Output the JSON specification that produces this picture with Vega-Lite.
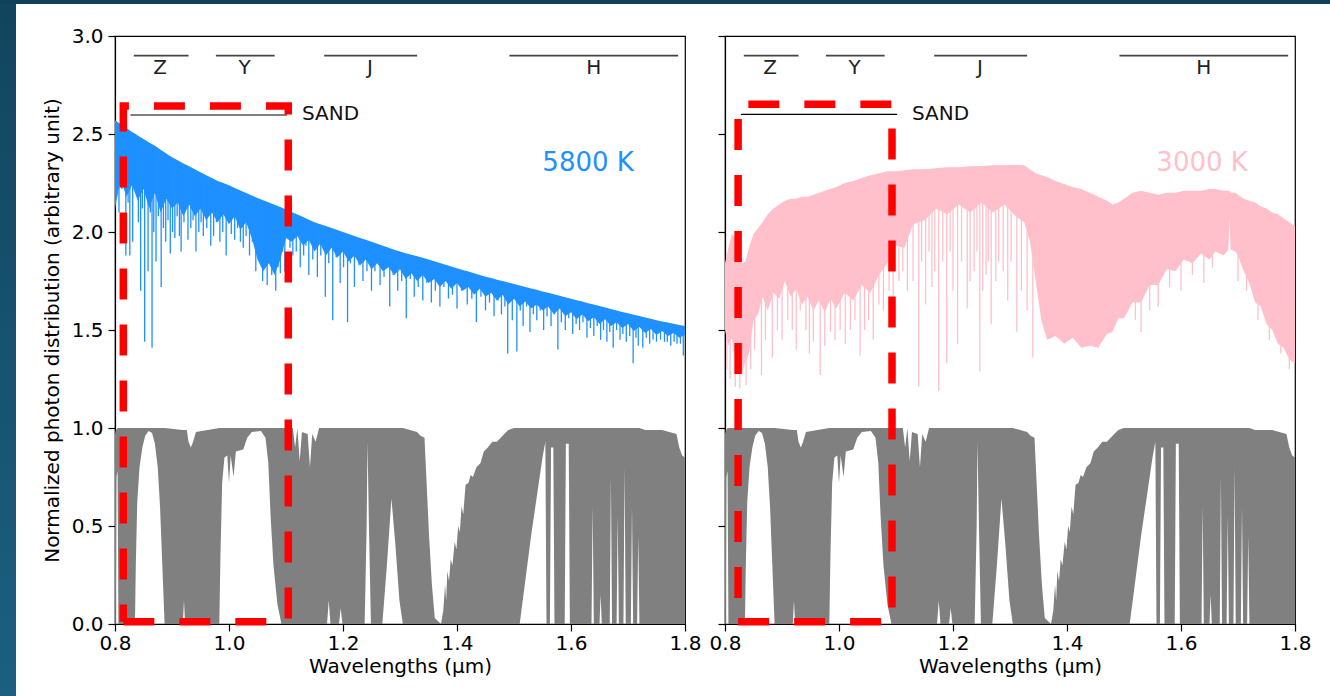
{
  "$schema": "https://vega.github.io/schema/vega-lite/v6.json",
  "padding": 0,
  "background": "white",
  "spacing": 0,
  "config": {
    "font": "DejaVu Sans",
    "view": {"stroke": null},
    "axis": {"labelFont": "DejaVu Sans", "titleFont": "DejaVu Sans", "labelFontSize": 20, "titleFontSize": 20, "titleFontWeight": "normal", "labelColor": "#000", "titleColor": "#000", "domainColor": "#000", "tickColor": "#000", "tickSize": 7, "domainWidth": 1.2, "tickWidth": 1.2, "grid": false},
    "text": {"font": "DejaVu Sans"}
  },
  "datasets": {
    "telluric": [
      {"lam":0.800,"lo":0,"hi":0.97},{"lam":0.8015,"lo":0,"hi":0.99},{"lam":0.8025,"lo":0.75,"hi":0.99},{"lam":0.8045,"lo":0.78,"hi":1.0},{"lam":0.806,"lo":0,"hi":1.0},
      {"lam":0.835,"lo":0,"hi":1.0},{"lam":0.8365,"lo":0.3,"hi":1.0},{"lam":0.839,"lo":0.62,"hi":1.0},{"lam":0.843,"lo":0.8,"hi":1.0},{"lam":0.848,"lo":0.9,"hi":1.0},{"lam":0.853,"lo":0.96,"hi":1.0},{"lam":0.859,"lo":0.985,"hi":1.0},{"lam":0.865,"lo":0.975,"hi":1.0},{"lam":0.87,"lo":0.92,"hi":1.0},{"lam":0.875,"lo":0.8,"hi":1.0},{"lam":0.879,"lo":0.6,"hi":1.0},{"lam":0.883,"lo":0.3,"hi":1.0},{"lam":0.887,"lo":0,"hi":1.0},
      {"lam":0.919,"lo":0,"hi":0.99},{"lam":0.921,"lo":0.12,"hi":0.99},{"lam":0.923,"lo":0,"hi":0.99},{"lam":0.926,"lo":0,"hi":0.99},{"lam":0.929,"lo":0,"hi":0.93},{"lam":0.933,"lo":0,"hi":0.9},{"lam":0.937,"lo":0,"hi":0.93},{"lam":0.942,"lo":0,"hi":0.98},
      {"lam":0.983,"lo":0,"hi":1.0},{"lam":0.985,"lo":0.35,"hi":1.0},{"lam":0.988,"lo":0.72,"hi":1.0},{"lam":0.992,"lo":0.85,"hi":1.0},{"lam":0.997,"lo":0.86,"hi":1.0},{"lam":1.0,"lo":0.72,"hi":1.0},{"lam":1.003,"lo":0.86,"hi":1.0},{"lam":1.008,"lo":0.75,"hi":1.0},{"lam":1.012,"lo":0.88,"hi":1.0},{"lam":1.025,"lo":0.89,"hi":1.0},{"lam":1.032,"lo":0.95,"hi":1.0},{"lam":1.04,"lo":0.98,"hi":1.0},{"lam":1.056,"lo":0.985,"hi":1.0},{"lam":1.064,"lo":0.95,"hi":1.0},{"lam":1.069,"lo":0.82,"hi":1.0},{"lam":1.073,"lo":0.55,"hi":1.0},{"lam":1.078,"lo":0.3,"hi":1.0},{"lam":1.085,"lo":0.1,"hi":1.0},{"lam":1.092,"lo":0,"hi":1.0},
      {"lam":1.112,"lo":0,"hi":1.0},{"lam":1.116,"lo":0,"hi":0.9},{"lam":1.12,"lo":0,"hi":1.0},{"lam":1.124,"lo":0,"hi":0.83},{"lam":1.128,"lo":0,"hi":0.98},{"lam":1.138,"lo":0,"hi":0.97},{"lam":1.142,"lo":0,"hi":0.8},{"lam":1.146,"lo":0,"hi":0.97},{"lam":1.152,"lo":0,"hi":0.93},{"lam":1.158,"lo":0,"hi":1.0},
      {"lam":1.172,"lo":0,"hi":1.0},{"lam":1.175,"lo":0.12,"hi":1.0},{"lam":1.178,"lo":0,"hi":1.0},{"lam":1.193,"lo":0,"hi":1.0},{"lam":1.196,"lo":0.08,"hi":1.0},{"lam":1.199,"lo":0,"hi":1.0},
      {"lam":1.238,"lo":0,"hi":1.0},{"lam":1.2415,"lo":0.5,"hi":1.0},{"lam":1.243,"lo":0.93,"hi":1.0},{"lam":1.2455,"lo":0.5,"hi":1.0},{"lam":1.249,"lo":0,"hi":1.0},
      {"lam":1.269,"lo":0,"hi":1.0},{"lam":1.277,"lo":0.3,"hi":1.0},{"lam":1.285,"lo":0.64,"hi":1.0},{"lam":1.292,"lo":0.4,"hi":1.0},{"lam":1.299,"lo":0.12,"hi":1.0},{"lam":1.305,"lo":0,"hi":1.0},
      {"lam":1.33,"lo":0,"hi":0.98},{"lam":1.336,"lo":0,"hi":0.96},{"lam":1.343,"lo":0,"hi":0.95},{"lam":1.347,"lo":0,"hi":0.7},{"lam":1.351,"lo":0,"hi":0.45},{"lam":1.356,"lo":0,"hi":0.2},{"lam":1.361,"lo":0,"hi":0.03},{"lam":1.372,"lo":0,"hi":0.0},
      {"lam":1.376,"lo":0,"hi":0.07},{"lam":1.379,"lo":0,"hi":0.2},{"lam":1.381,"lo":0,"hi":0.12},{"lam":1.383,"lo":0,"hi":0.27},{"lam":1.386,"lo":0,"hi":0.22},{"lam":1.389,"lo":0,"hi":0.33},{"lam":1.392,"lo":0,"hi":0.3},{"lam":1.396,"lo":0,"hi":0.42},{"lam":1.399,"lo":0,"hi":0.38},{"lam":1.402,"lo":0,"hi":0.5},{"lam":1.405,"lo":0,"hi":0.47},{"lam":1.408,"lo":0,"hi":0.6},{"lam":1.411,"lo":0,"hi":0.56},{"lam":1.415,"lo":0,"hi":0.71},{"lam":1.42,"lo":0,"hi":0.72},{"lam":1.424,"lo":0,"hi":0.76},{"lam":1.428,"lo":0,"hi":0.75},{"lam":1.434,"lo":0,"hi":0.8},{"lam":1.441,"lo":0,"hi":0.82},{"lam":1.447,"lo":0,"hi":0.88},{"lam":1.454,"lo":0,"hi":0.9},{"lam":1.462,"lo":0,"hi":0.93},{"lam":1.47,"lo":0,"hi":0.93},{"lam":1.48,"lo":0,"hi":0.96},{"lam":1.49,"lo":0,"hi":0.99},{"lam":1.5,"lo":0,"hi":1.0},
      {"lam":1.51,"lo":0,"hi":1.0},{"lam":1.53,"lo":0.45,"hi":1.0},{"lam":1.55,"lo":0.85,"hi":1.0},{"lam":1.555,"lo":0.93,"hi":1.0},{"lam":1.557,"lo":0,"hi":1.0},
      {"lam":1.563,"lo":0,"hi":1.0},{"lam":1.565,"lo":0.9,"hi":1.0},{"lam":1.569,"lo":0.9,"hi":1.0},{"lam":1.571,"lo":0,"hi":1.0},
      {"lam":1.589,"lo":0,"hi":1.0},{"lam":1.591,"lo":0.92,"hi":1.0},{"lam":1.596,"lo":0.92,"hi":1.0},{"lam":1.598,"lo":0,"hi":1.0},
      {"lam":1.636,"lo":0,"hi":1.0},{"lam":1.638,"lo":0.6,"hi":1.0},{"lam":1.64,"lo":0,"hi":1.0},{"lam":1.65,"lo":0,"hi":1.0},{"lam":1.652,"lo":0.15,"hi":1.0},{"lam":1.654,"lo":0,"hi":1.0},
      {"lam":1.668,"lo":0,"hi":1.0},{"lam":1.670,"lo":0.75,"hi":1.0},{"lam":1.672,"lo":0,"hi":1.0},{"lam":1.68,"lo":0,"hi":1.0},{"lam":1.682,"lo":0.55,"hi":1.0},{"lam":1.684,"lo":0,"hi":1.0},{"lam":1.692,"lo":0,"hi":1.0},{"lam":1.694,"lo":0.8,"hi":1.0},{"lam":1.696,"lo":0,"hi":1.0},{"lam":1.705,"lo":0,"hi":1.0},{"lam":1.707,"lo":0.6,"hi":1.0},{"lam":1.709,"lo":0,"hi":1.0},{"lam":1.716,"lo":0,"hi":1.0},{"lam":1.718,"lo":0.45,"hi":1.0},{"lam":1.72,"lo":0,"hi":1.0},
      {"lam":1.73,"lo":0,"hi":0.99},{"lam":1.76,"lo":0,"hi":0.99},{"lam":1.785,"lo":0,"hi":0.97},{"lam":1.79,"lo":0,"hi":0.9},{"lam":1.795,"lo":0,"hi":0.86},{"lam":1.8,"lo":0,"hi":0.85}
    ],
    "sun": [
      {"lam":0.80,"top":2.570,"bot":2.12},{"lam":0.81,"top":2.550,"bot":2.27},{"lam":0.82,"top":2.530,"bot":2.18},{"lam":0.83,"top":2.510,"bot":2.24},{"lam":0.84,"top":2.492,"bot":2.16},{"lam":0.85,"top":2.475,"bot":2.22},{"lam":0.86,"top":2.457,"bot":2.12},{"lam":0.87,"top":2.440,"bot":2.2},{"lam":0.88,"top":2.420,"bot":2.1},{"lam":0.89,"top":2.400,"bot":2.17},
      {"lam":0.90,"top":2.382,"bot":2.12},{"lam":0.91,"top":2.366,"bot":2.15},{"lam":0.92,"top":2.350,"bot":2.08},{"lam":0.93,"top":2.335,"bot":2.14},{"lam":0.94,"top":2.320,"bot":2.08},{"lam":0.95,"top":2.305,"bot":2.12},{"lam":0.96,"top":2.290,"bot":2.06},{"lam":0.97,"top":2.275,"bot":2.1},{"lam":0.98,"top":2.260,"bot":2.05},{"lam":0.99,"top":2.250,"bot":2.09},
      {"lam":1.00,"top":2.238,"bot":2.04},{"lam":1.01,"top":2.225,"bot":2.08},{"lam":1.02,"top":2.212,"bot":2.01},{"lam":1.03,"top":2.199,"bot":2.05},{"lam":1.04,"top":2.186,"bot":1.97},{"lam":1.05,"top":2.174,"bot":1.86},{"lam":1.06,"top":2.162,"bot":1.8},{"lam":1.07,"top":2.150,"bot":1.84},{"lam":1.08,"top":2.139,"bot":1.78},{"lam":1.09,"top":2.127,"bot":1.86},
      {"lam":1.10,"top":2.115,"bot":1.97},{"lam":1.11,"top":2.102,"bot":1.95},{"lam":1.12,"top":2.089,"bot":1.98},{"lam":1.13,"top":2.076,"bot":1.93},{"lam":1.14,"top":2.063,"bot":1.96},{"lam":1.15,"top":2.050,"bot":1.9},{"lam":1.16,"top":2.040,"bot":1.94},{"lam":1.17,"top":2.030,"bot":1.88},{"lam":1.18,"top":2.020,"bot":1.92},{"lam":1.19,"top":2.010,"bot":1.87},
      {"lam":1.20,"top":2.000,"bot":1.9},{"lam":1.21,"top":1.990,"bot":1.85},{"lam":1.22,"top":1.980,"bot":1.88},{"lam":1.23,"top":1.970,"bot":1.83},{"lam":1.24,"top":1.960,"bot":1.86},{"lam":1.25,"top":1.950,"bot":1.81},{"lam":1.26,"top":1.940,"bot":1.84},{"lam":1.27,"top":1.930,"bot":1.8},{"lam":1.28,"top":1.920,"bot":1.82},{"lam":1.29,"top":1.910,"bot":1.78},
      {"lam":1.30,"top":1.900,"bot":1.81},{"lam":1.31,"top":1.892,"bot":1.76},{"lam":1.32,"top":1.884,"bot":1.79},{"lam":1.33,"top":1.876,"bot":1.75},{"lam":1.34,"top":1.868,"bot":1.78},{"lam":1.35,"top":1.860,"bot":1.74},{"lam":1.36,"top":1.851,"bot":1.76},{"lam":1.37,"top":1.842,"bot":1.72},{"lam":1.38,"top":1.833,"bot":1.75},{"lam":1.39,"top":1.824,"bot":1.71},
      {"lam":1.40,"top":1.815,"bot":1.74},{"lam":1.41,"top":1.806,"bot":1.7},{"lam":1.42,"top":1.798,"bot":1.72},{"lam":1.43,"top":1.789,"bot":1.68},{"lam":1.44,"top":1.780,"bot":1.71},{"lam":1.45,"top":1.772,"bot":1.67},{"lam":1.46,"top":1.765,"bot":1.69},{"lam":1.47,"top":1.757,"bot":1.65},{"lam":1.48,"top":1.750,"bot":1.68},{"lam":1.49,"top":1.742,"bot":1.63},
      {"lam":1.50,"top":1.735,"bot":1.66},{"lam":1.51,"top":1.727,"bot":1.62},{"lam":1.52,"top":1.720,"bot":1.645},{"lam":1.53,"top":1.712,"bot":1.61},{"lam":1.54,"top":1.705,"bot":1.63},{"lam":1.55,"top":1.697,"bot":1.6},{"lam":1.56,"top":1.690,"bot":1.62},{"lam":1.57,"top":1.682,"bot":1.58},{"lam":1.58,"top":1.675,"bot":1.61},{"lam":1.59,"top":1.667,"bot":1.57},
      {"lam":1.60,"top":1.660,"bot":1.59},{"lam":1.61,"top":1.652,"bot":1.555},{"lam":1.62,"top":1.645,"bot":1.58},{"lam":1.63,"top":1.637,"bot":1.545},{"lam":1.64,"top":1.630,"bot":1.565},{"lam":1.65,"top":1.622,"bot":1.53},{"lam":1.66,"top":1.615,"bot":1.555},{"lam":1.67,"top":1.607,"bot":1.52},{"lam":1.68,"top":1.600,"bot":1.54},{"lam":1.69,"top":1.592,"bot":1.51},
      {"lam":1.70,"top":1.585,"bot":1.53},{"lam":1.71,"top":1.578,"bot":1.495},{"lam":1.72,"top":1.571,"bot":1.515},{"lam":1.73,"top":1.564,"bot":1.485},{"lam":1.74,"top":1.557,"bot":1.505},{"lam":1.75,"top":1.550,"bot":1.475},{"lam":1.76,"top":1.544,"bot":1.495},{"lam":1.77,"top":1.538,"bot":1.47},{"lam":1.78,"top":1.532,"bot":1.485},{"lam":1.79,"top":1.526,"bot":1.46},{"lam":1.80,"top":1.520,"bot":1.475}
    ],
    "sunLines": [
      {"lam":0.807,"lo":2.1,"hi":2.5},{"lam":0.812,"lo":2.22,"hi":2.5},{"lam":0.819,"lo":1.88,"hi":2.5},{"lam":0.823,"lo":2.15,"hi":2.5},{"lam":0.826,"lo":1.88,"hi":2.5},{"lam":0.831,"lo":1.95,"hi":2.5},{"lam":0.836,"lo":2.2,"hi":2.5},{"lam":0.841,"lo":2.05,"hi":2.45},{"lam":0.845,"lo":1.7,"hi":2.45},{"lam":0.848,"lo":2.12,"hi":2.45},{"lam":0.852,"lo":1.44,"hi":2.45},{"lam":0.858,"lo":1.8,"hi":2.45},{"lam":0.862,"lo":2.1,"hi":2.42},{"lam":0.865,"lo":1.41,"hi":2.42},{"lam":0.868,"lo":2.0,"hi":2.42},{"lam":0.872,"lo":1.85,"hi":2.4},{"lam":0.876,"lo":2.08,"hi":2.4},{"lam":0.881,"lo":1.72,"hi":2.4},{"lam":0.885,"lo":2.02,"hi":2.4},{"lam":0.889,"lo":1.95,"hi":2.38},{"lam":0.893,"lo":2.06,"hi":2.36},{"lam":0.897,"lo":1.89,"hi":2.36},{"lam":0.901,"lo":2.0,"hi":2.36},{"lam":0.905,"lo":1.97,"hi":2.35},{"lam":0.909,"lo":2.08,"hi":2.35},{"lam":0.913,"lo":1.98,"hi":2.33},{"lam":0.916,"lo":1.9,"hi":2.33},{"lam":0.921,"lo":2.05,"hi":2.33},{"lam":0.928,"lo":1.96,"hi":2.3},{"lam":0.933,"lo":2.02,"hi":2.3},{"lam":0.937,"lo":2.06,"hi":2.3},{"lam":0.942,"lo":1.9,"hi":2.3},{"lam":0.947,"lo":2.0,"hi":2.28},{"lam":0.951,"lo":2.05,"hi":2.28},{"lam":0.955,"lo":1.98,"hi":2.28},{"lam":0.961,"lo":2.02,"hi":2.27},{"lam":0.968,"lo":1.93,"hi":2.25},{"lam":0.973,"lo":1.98,"hi":2.25},{"lam":0.978,"lo":2.05,"hi":2.24},{"lam":0.984,"lo":1.95,"hi":2.23},{"lam":0.989,"lo":2.0,"hi":2.23},{"lam":0.995,"lo":1.88,"hi":2.22},{"lam":1.004,"lo":1.99,"hi":2.21},{"lam":1.01,"lo":1.96,"hi":2.2},{"lam":1.015,"lo":2.02,"hi":2.2},{"lam":1.02,"lo":1.95,"hi":2.19},{"lam":1.025,"lo":1.92,"hi":2.18},{"lam":1.03,"lo":1.98,"hi":2.18},{"lam":1.036,"lo":1.88,"hi":2.16},{"lam":1.041,"lo":1.95,"hi":2.16},{"lam":1.047,"lo":1.8,"hi":2.15},{"lam":1.052,"lo":1.9,"hi":2.15},{"lam":1.059,"lo":1.75,"hi":2.14},{"lam":1.063,"lo":1.85,"hi":2.14},{"lam":1.067,"lo":1.73,"hi":2.13},{"lam":1.071,"lo":1.9,"hi":2.13},{"lam":1.075,"lo":1.78,"hi":2.12},{"lam":1.079,"lo":1.86,"hi":2.12},{"lam":1.082,"lo":1.7,"hi":2.11},{"lam":1.086,"lo":1.82,"hi":2.11},{"lam":1.09,"lo":1.79,"hi":2.1},{"lam":1.094,"lo":1.9,"hi":2.1},{"lam":1.098,"lo":1.8,"hi":2.1},{"lam":1.107,"lo":1.92,"hi":2.08},{"lam":1.112,"lo":1.88,"hi":2.07},{"lam":1.118,"lo":1.9,"hi":2.07},{"lam":1.125,"lo":1.82,"hi":2.05},{"lam":1.131,"lo":1.88,"hi":2.05},{"lam":1.135,"lo":1.93,"hi":2.04},{"lam":1.14,"lo":1.78,"hi":2.04},{"lam":1.147,"lo":1.86,"hi":2.03},{"lam":1.155,"lo":1.77,"hi":2.02},{"lam":1.161,"lo":1.88,"hi":2.02},{"lam":1.169,"lo":1.67,"hi":2.0},{"lam":1.175,"lo":1.84,"hi":2.0},{"lam":1.182,"lo":1.55,"hi":2.0},{"lam":1.188,"lo":1.87,"hi":1.99},{"lam":1.195,"lo":1.74,"hi":1.98},{"lam":1.201,"lo":1.82,"hi":1.98},{"lam":1.208,"lo":1.54,"hi":1.97},{"lam":1.213,"lo":1.84,"hi":1.97},{"lam":1.22,"lo":1.72,"hi":1.96},{"lam":1.228,"lo":1.83,"hi":1.96},{"lam":1.235,"lo":1.75,"hi":1.95},{"lam":1.242,"lo":1.8,"hi":1.94},{"lam":1.25,"lo":1.7,"hi":1.93},{"lam":1.256,"lo":1.8,"hi":1.93},{"lam":1.265,"lo":1.73,"hi":1.92},{"lam":1.272,"lo":1.77,"hi":1.91},{"lam":1.282,"lo":1.62,"hi":1.9},{"lam":1.288,"lo":1.78,"hi":1.9},{"lam":1.296,"lo":1.7,"hi":1.88},{"lam":1.303,"lo":1.75,"hi":1.88},{"lam":1.311,"lo":1.56,"hi":1.87},{"lam":1.318,"lo":1.76,"hi":1.87},{"lam":1.325,"lo":1.67,"hi":1.86},{"lam":1.332,"lo":1.72,"hi":1.86},{"lam":1.34,"lo":1.65,"hi":1.85},{"lam":1.347,"lo":1.74,"hi":1.85},{"lam":1.355,"lo":1.64,"hi":1.83},{"lam":1.362,"lo":1.7,"hi":1.83},{"lam":1.37,"lo":1.62,"hi":1.82},{"lam":1.377,"lo":1.72,"hi":1.82},{"lam":1.385,"lo":1.66,"hi":1.8},{"lam":1.392,"lo":1.68,"hi":1.8},{"lam":1.4,"lo":1.61,"hi":1.79},{"lam":1.408,"lo":1.7,"hi":1.79},{"lam":1.418,"lo":1.63,"hi":1.78},{"lam":1.426,"lo":1.66,"hi":1.78},{"lam":1.434,"lo":1.54,"hi":1.77},{"lam":1.442,"lo":1.67,"hi":1.77},{"lam":1.45,"lo":1.6,"hi":1.75},{"lam":1.457,"lo":1.64,"hi":1.75},{"lam":1.465,"lo":1.57,"hi":1.74},{"lam":1.472,"lo":1.65,"hi":1.74},{"lam":1.478,"lo":1.58,"hi":1.73},{"lam":1.484,"lo":1.62,"hi":1.73},{"lam":1.489,"lo":1.38,"hi":1.72},{"lam":1.497,"lo":1.55,"hi":1.71},{"lam":1.505,"lo":1.39,"hi":1.71},{"lam":1.511,"lo":1.6,"hi":1.71},{"lam":1.516,"lo":1.52,"hi":1.7},{"lam":1.522,"lo":1.62,"hi":1.7},{"lam":1.528,"lo":1.49,"hi":1.69},{"lam":1.534,"lo":1.58,"hi":1.69},{"lam":1.54,"lo":1.55,"hi":1.68},{"lam":1.546,"lo":1.6,"hi":1.68},{"lam":1.552,"lo":1.5,"hi":1.67},{"lam":1.558,"lo":1.57,"hi":1.67},{"lam":1.565,"lo":1.52,"hi":1.66},{"lam":1.571,"lo":1.58,"hi":1.66},{"lam":1.577,"lo":1.4,"hi":1.65},{"lam":1.583,"lo":1.54,"hi":1.65},{"lam":1.59,"lo":1.5,"hi":1.64},{"lam":1.596,"lo":1.56,"hi":1.64},{"lam":1.603,"lo":1.48,"hi":1.63},{"lam":1.609,"lo":1.53,"hi":1.63},{"lam":1.615,"lo":1.5,"hi":1.62},{"lam":1.621,"lo":1.54,"hi":1.62},{"lam":1.628,"lo":1.46,"hi":1.61},{"lam":1.634,"lo":1.51,"hi":1.61},{"lam":1.64,"lo":1.47,"hi":1.6},{"lam":1.646,"lo":1.52,"hi":1.6},{"lam":1.652,"lo":1.45,"hi":1.59},{"lam":1.657,"lo":1.5,"hi":1.59},{"lam":1.663,"lo":1.44,"hi":1.58},{"lam":1.668,"lo":1.49,"hi":1.58},{"lam":1.674,"lo":1.41,"hi":1.57},{"lam":1.68,"lo":1.5,"hi":1.57},{"lam":1.686,"lo":1.45,"hi":1.56},{"lam":1.691,"lo":1.48,"hi":1.56},{"lam":1.697,"lo":1.44,"hi":1.55},{"lam":1.703,"lo":1.47,"hi":1.55},{"lam":1.709,"lo":1.33,"hi":1.55},{"lam":1.714,"lo":1.46,"hi":1.54},{"lam":1.718,"lo":1.42,"hi":1.54},{"lam":1.726,"lo":1.41,"hi":1.53},{"lam":1.732,"lo":1.46,"hi":1.53},{"lam":1.738,"lo":1.43,"hi":1.52},{"lam":1.744,"lo":1.45,"hi":1.52},{"lam":1.75,"lo":1.44,"hi":1.51},{"lam":1.757,"lo":1.45,"hi":1.51},{"lam":1.764,"lo":1.44,"hi":1.5},{"lam":1.769,"lo":1.44,"hi":1.5},{"lam":1.775,"lo":1.42,"hi":1.5},{"lam":1.781,"lo":1.44,"hi":1.5},{"lam":1.786,"lo":1.43,"hi":1.49},{"lam":1.792,"lo":1.43,"hi":1.49},{"lam":1.797,"lo":1.37,"hi":1.48}
    ],
    "cool": [
      {"lam":0.8,"top":1.84,"bot":1.5},{"lam":0.806,"top":1.92,"bot":1.42},{"lam":0.812,"top":1.99,"bot":1.46},{"lam":0.818,"top":1.97,"bot":1.34},{"lam":0.824,"top":1.9,"bot":1.36},{"lam":0.83,"top":1.84,"bot":1.28},{"lam":0.836,"top":1.85,"bot":1.34},{"lam":0.842,"top":1.92,"bot":1.38},{"lam":0.85,"top":1.99,"bot":1.55},{"lam":0.858,"top":2.02,"bot":1.58},{"lam":0.866,"top":2.05,"bot":1.67},{"lam":0.875,"top":2.09,"bot":1.6},{"lam":0.885,"top":2.12,"bot":1.69},{"lam":0.895,"top":2.14,"bot":1.66},{"lam":0.905,"top":2.16,"bot":1.75},{"lam":0.915,"top":2.17,"bot":1.67},{"lam":0.925,"top":2.17,"bot":1.71},{"lam":0.935,"top":2.18,"bot":1.63},{"lam":0.945,"top":2.18,"bot":1.67},{"lam":0.955,"top":2.19,"bot":1.6},{"lam":0.965,"top":2.2,"bot":1.65},{"lam":0.975,"top":2.21,"bot":1.59},{"lam":0.985,"top":2.22,"bot":1.66},{"lam":0.995,"top":2.23,"bot":1.61},{"lam":1.01,"top":2.25,"bot":1.69},{"lam":1.025,"top":2.26,"bot":1.65},{"lam":1.04,"top":2.275,"bot":1.73},{"lam":1.055,"top":2.29,"bot":1.69},{"lam":1.07,"top":2.3,"bot":1.78},{"lam":1.085,"top":2.31,"bot":1.84},{"lam":1.1,"top":2.31,"bot":1.93},{"lam":1.115,"top":2.315,"bot":1.92},{"lam":1.13,"top":2.32,"bot":2.04},{"lam":1.15,"top":2.32,"bot":2.06},{"lam":1.17,"top":2.325,"bot":2.12},{"lam":1.19,"top":2.33,"bot":2.09},{"lam":1.21,"top":2.33,"bot":2.14},{"lam":1.23,"top":2.335,"bot":2.1},{"lam":1.25,"top":2.337,"bot":2.15},{"lam":1.27,"top":2.34,"bot":2.1},{"lam":1.29,"top":2.34,"bot":2.14},{"lam":1.31,"top":2.342,"bot":2.08},{"lam":1.325,"top":2.34,"bot":2.05},{"lam":1.335,"top":2.32,"bot":1.95},{"lam":1.345,"top":2.3,"bot":1.75},{"lam":1.355,"top":2.29,"bot":1.55},{"lam":1.365,"top":2.28,"bot":1.45},{"lam":1.38,"top":2.26,"bot":1.47},{"lam":1.395,"top":2.245,"bot":1.43},{"lam":1.41,"top":2.23,"bot":1.46},{"lam":1.425,"top":2.22,"bot":1.41},{"lam":1.44,"top":2.2,"bot":1.42},{"lam":1.455,"top":2.18,"bot":1.41},{"lam":1.47,"top":2.16,"bot":1.48},{"lam":1.48,"top":2.14,"bot":1.49},{"lam":1.49,"top":2.15,"bot":1.56},{"lam":1.5,"top":2.17,"bot":1.56},{"lam":1.515,"top":2.2,"bot":1.64},{"lam":1.53,"top":2.21,"bot":1.64},{"lam":1.545,"top":2.2,"bot":1.73},{"lam":1.56,"top":2.19,"bot":1.73},{"lam":1.575,"top":2.2,"bot":1.81},{"lam":1.59,"top":2.2,"bot":1.8},{"lam":1.605,"top":2.21,"bot":1.86},{"lam":1.62,"top":2.21,"bot":1.84},{"lam":1.635,"top":2.21,"bot":1.89},{"lam":1.65,"top":2.22,"bot":1.86},{"lam":1.66,"top":2.22,"bot":1.9},{"lam":1.675,"top":2.21,"bot":1.88},{"lam":1.683,"top":2.21,"bot":1.91},{"lam":1.685,"top":2.21,"bot":2.07},{"lam":1.687,"top":2.2,"bot":1.91},{"lam":1.695,"top":2.2,"bot":1.9},{"lam":1.7,"top":2.19,"bot":1.88},{"lam":1.71,"top":2.17,"bot":1.8},{"lam":1.72,"top":2.16,"bot":1.74},{"lam":1.73,"top":2.15,"bot":1.64},{"lam":1.74,"top":2.13,"bot":1.62},{"lam":1.75,"top":2.12,"bot":1.53},{"lam":1.76,"top":2.1,"bot":1.5},{"lam":1.77,"top":2.09,"bot":1.43},{"lam":1.78,"top":2.07,"bot":1.41},{"lam":1.79,"top":2.05,"bot":1.35},{"lam":1.8,"top":2.03,"bot":1.33}
    ],
    "coolLines": [
      {"lam":0.803,"lo":1.3,"hi":1.6},{"lam":0.809,"lo":1.25,"hi":1.6},{"lam":0.818,"lo":1.21,"hi":1.6},{"lam":0.826,"lo":1.2,"hi":1.6},{"lam":0.837,"lo":1.22,"hi":1.6},{"lam":0.845,"lo":1.3,"hi":1.6},{"lam":0.852,"lo":1.4,"hi":1.7},{"lam":0.864,"lo":1.27,"hi":1.8},{"lam":0.871,"lo":1.45,"hi":1.8},{"lam":0.883,"lo":1.36,"hi":1.8},{"lam":0.892,"lo":1.5,"hi":1.8},{"lam":0.9,"lo":1.45,"hi":1.8},{"lam":0.91,"lo":1.55,"hi":1.8},{"lam":0.918,"lo":1.5,"hi":1.8},{"lam":0.925,"lo":1.4,"hi":1.8},{"lam":0.932,"lo":1.6,"hi":1.9},{"lam":0.942,"lo":1.5,"hi":1.9},{"lam":0.948,"lo":1.38,"hi":1.9},{"lam":0.955,"lo":1.44,"hi":1.9},{"lam":0.967,"lo":1.27,"hi":1.9},{"lam":0.975,"lo":1.42,"hi":1.9},{"lam":0.985,"lo":1.49,"hi":1.9},{"lam":0.993,"lo":1.45,"hi":1.9},{"lam":1.002,"lo":1.5,"hi":1.9},{"lam":1.011,"lo":1.43,"hi":1.9},{"lam":1.02,"lo":1.5,"hi":1.9},{"lam":1.028,"lo":1.55,"hi":1.9},{"lam":1.037,"lo":1.37,"hi":1.9},{"lam":1.045,"lo":1.5,"hi":1.9},{"lam":1.052,"lo":1.55,"hi":1.9},{"lam":1.06,"lo":1.45,"hi":1.9},{"lam":1.07,"lo":1.63,"hi":1.9},{"lam":1.078,"lo":1.6,"hi":1.9},{"lam":1.088,"lo":1.7,"hi":2.0},{"lam":1.095,"lo":1.65,"hi":2.0},{"lam":1.105,"lo":1.75,"hi":2.0},{"lam":1.112,"lo":1.8,"hi":2.1},{"lam":1.12,"lo":1.7,"hi":2.1},{"lam":1.13,"lo":1.75,"hi":2.1},{"lam":1.14,"lo":1.21,"hi":2.1},{"lam":1.145,"lo":1.85,"hi":2.2},{"lam":1.152,"lo":1.63,"hi":2.2},{"lam":1.158,"lo":1.9,"hi":2.2},{"lam":1.163,"lo":1.72,"hi":2.2},{"lam":1.168,"lo":1.8,"hi":2.2},{"lam":1.175,"lo":1.19,"hi":2.2},{"lam":1.182,"lo":1.85,"hi":2.2},{"lam":1.189,"lo":1.33,"hi":2.2},{"lam":1.195,"lo":1.9,"hi":2.2},{"lam":1.2,"lo":1.7,"hi":2.2},{"lam":1.208,"lo":1.43,"hi":2.2},{"lam":1.215,"lo":1.85,"hi":2.2},{"lam":1.225,"lo":1.61,"hi":2.2},{"lam":1.23,"lo":1.75,"hi":2.2},{"lam":1.237,"lo":1.8,"hi":2.2},{"lam":1.242,"lo":1.9,"hi":2.2},{"lam":1.247,"lo":1.29,"hi":2.2},{"lam":1.252,"lo":1.7,"hi":2.2},{"lam":1.258,"lo":1.78,"hi":2.2},{"lam":1.262,"lo":1.85,"hi":2.2},{"lam":1.267,"lo":1.53,"hi":2.2},{"lam":1.275,"lo":1.75,"hi":2.2},{"lam":1.28,"lo":1.85,"hi":2.2},{"lam":1.288,"lo":1.8,"hi":2.2},{"lam":1.296,"lo":1.65,"hi":2.2},{"lam":1.302,"lo":1.85,"hi":2.2},{"lam":1.312,"lo":1.49,"hi":2.2},{"lam":1.32,"lo":1.7,"hi":2.2},{"lam":1.33,"lo":1.6,"hi":2.1},{"lam":1.34,"lo":1.36,"hi":2.0},{"lam":1.52,"lo":1.55,"hi":1.8},{"lam":1.53,"lo":1.49,"hi":1.8},{"lam":1.545,"lo":1.6,"hi":1.9},{"lam":1.56,"lo":1.62,"hi":1.9},{"lam":1.58,"lo":1.72,"hi":1.9},{"lam":1.6,"lo":1.7,"hi":1.9},{"lam":1.62,"lo":1.78,"hi":1.95},{"lam":1.64,"lo":1.74,"hi":1.95},{"lam":1.655,"lo":1.82,"hi":1.95},{"lam":1.7,"lo":1.75,"hi":2.0},{"lam":1.715,"lo":1.7,"hi":1.9},{"lam":1.735,"lo":1.55,"hi":1.8},{"lam":1.755,"lo":1.45,"hi":1.6},{"lam":1.775,"lo":1.38,"hi":1.5},{"lam":1.79,"lo":1.3,"hi":1.45}
    ],
    "bands": [
      {"band":"Z","lam0":0.833,"lam1":0.929,"mid":0.879},
      {"band":"Y","lam0":0.977,"lam1":1.08,"mid":1.0275},
      {"band":"J","lam0":1.167,"lam1":1.33,"mid":1.2475},
      {"band":"H","lam0":1.492,"lam1":1.788,"mid":1.64}
    ],
    "boxLeft": [
      {"i":0,"lam":0.8146,"v":0.012},{"i":1,"lam":1.104,"v":0.012},{"i":2,"lam":1.104,"v":2.643},{"i":3,"lam":0.8146,"v":2.643},{"i":4,"lam":0.8146,"v":0.012}
    ],
    "boxRight": [
      {"i":0,"lam":0.823,"v":0.012},{"i":1,"lam":1.093,"v":0.012},{"i":2,"lam":1.093,"v":2.652},{"i":3,"lam":0.823,"v":2.652},{"i":4,"lam":0.823,"v":0.012}
    ]
  },
  "vconcat": [
    {
      "width": 1330, "height": 4,
      "data": {"values": [{}]},
      "mark": {"type": "rect", "fill": "#10405a", "strokeWidth": 0},
      "encoding": {}
    },
    {
      "spacing": 25,
      "hconcat": [
        {
          "width": 16, "height": 692,
          "data": {"values": [{}]},
          "mark": {"type": "rect", "strokeWidth": 0, "fill": {"gradient": "linear", "x1": 0, "y1": 0, "x2": 0, "y2": 1, "stops": [{"offset": 0, "color": "#13445e"}, {"offset": 1, "color": "#1b6080"}]}},
          "encoding": {}
        },
        {
          "spacing": 0,
          "vconcat": [
            {"width": 10, "height": 21, "data": {"values": []}, "mark": {"type": "rect", "opacity": 0}, "encoding": {}},
            {
              "bounds": "flush",
              "spacing": 40,
              "hconcat": [
                {
                  "width": 570, "height": 588,
                  "view": {"stroke": "#000", "strokeWidth": 1.2},
                  "layer": [
                    {
                      "data": {"name": "telluric"},
                      "mark": {"type": "area", "color": "#808080", "orient": "vertical", "clip": true},
                      "encoding": {
                        "x": {"field": "lam", "type": "quantitative", "scale": {"domain": [0.8, 1.8], "nice": false, "zero": false}, "axis": {"values": [0.8, 1.0, 1.2, 1.4, 1.6, 1.8], "format": ".1f", "title": "Wavelengths (μm)", "labelFlush": false, "labelOverlap": false, "labelPadding": 2, "titlePadding": 3}},
                        "y": {"field": "hi", "type": "quantitative", "scale": {"domain": [0, 3], "nice": false, "zero": false}, "axis": {"values": [0, 0.5, 1.0, 1.5, 2.0, 2.5, 3.0], "format": ".1f", "title": "Normalized photon distribution (arbitrary unit)", "labelPadding": 5, "titlePadding": 9}},
                        "y2": {"field": "lo"}
                      }
                    },
                    {
                      "data": {"name": "sun"},
                      "mark": {"type": "area", "color": "#1e90ff", "orient": "vertical", "clip": true},
                      "encoding": {"x": {"field": "lam", "type": "quantitative"}, "y": {"field": "top", "type": "quantitative"}, "y2": {"field": "bot"}}
                    },
                    {
                      "data": {"name": "sunLines"},
                      "mark": {"type": "rule", "color": "#1e90ff", "strokeWidth": 1.3},
                      "encoding": {"x": {"field": "lam", "type": "quantitative"}, "y": {"field": "lo", "type": "quantitative"}, "y2": {"field": "hi"}}
                    },
                    {
                      "data": {"name": "bands"},
                      "mark": {"type": "rule", "color": "#444444", "strokeWidth": 1.8},
                      "encoding": {"x": {"field": "lam0", "type": "quantitative"}, "x2": {"field": "lam1"}, "y": {"datum": 2.9, "type": "quantitative"}}
                    },
                    {
                      "data": {"name": "bands"},
                      "mark": {"type": "text", "fontSize": 20, "color": "#222222", "baseline": "middle", "align": "center"},
                      "encoding": {"x": {"field": "mid", "type": "quantitative"}, "y": {"datum": 2.835, "type": "quantitative"}, "text": {"field": "band"}}
                    },
                    {
                      "data": {"values": [{"lam0": 0.827, "lam1": 1.102, "lam": 1.128, "label": "SAND"}]},
                      "layer": [
                        {"mark": {"type": "rule", "color": "#000", "strokeWidth": 1.2}, "encoding": {"x": {"field": "lam0", "type": "quantitative"}, "x2": {"field": "lam1"}, "y": {"datum": 2.597, "type": "quantitative"}}},
                        {"mark": {"type": "text", "fontSize": 20, "color": "#111", "align": "left", "baseline": "middle"}, "encoding": {"x": {"field": "lam", "type": "quantitative"}, "y": {"datum": 2.6, "type": "quantitative"}, "text": {"field": "label"}}}
                      ]
                    },
                    {
                      "data": {"name": "boxLeft"},
                      "mark": {"type": "line", "color": "#ff0000", "strokeWidth": 7.5, "strokeDash": [31, 25], "strokeCap": "butt", "strokeJoin": "miter", "clip": false},
                      "encoding": {"x": {"field": "lam", "type": "quantitative"}, "y": {"field": "v", "type": "quantitative"}, "order": {"field": "i", "type": "quantitative"}}
                    },
                    {
                      "data": {"values": [{"lam": 1.63, "v": 2.35, "label": "5800 K"}]},
                      "mark": {"type": "text", "fontSize": 26, "color": "#1e90ff", "align": "center", "baseline": "middle"},
                      "encoding": {"x": {"field": "lam", "type": "quantitative"}, "y": {"field": "v", "type": "quantitative"}, "text": {"field": "label"}}
                    }
                  ]
                },
                {
                  "width": 570, "height": 588,
                  "view": {"stroke": "#000", "strokeWidth": 1.2},
                  "layer": [
                    {
                      "data": {"name": "telluric"},
                      "mark": {"type": "area", "color": "#808080", "orient": "vertical", "clip": true},
                      "encoding": {
                        "x": {"field": "lam", "type": "quantitative", "scale": {"domain": [0.8, 1.8], "nice": false, "zero": false}, "axis": {"values": [0.8, 1.0, 1.2, 1.4, 1.6, 1.8], "format": ".1f", "title": "Wavelengths (μm)", "labelFlush": false, "labelOverlap": false, "labelPadding": 2, "titlePadding": 3}},
                        "y": {"field": "hi", "type": "quantitative", "scale": {"domain": [0, 3], "nice": false, "zero": false}, "axis": {"values": [0, 0.5, 1.0, 1.5, 2.0, 2.5, 3.0], "labels": false, "title": null}},
                        "y2": {"field": "lo"}
                      }
                    },
                    {
                      "data": {"name": "cool"},
                      "mark": {"type": "area", "color": "#ffc0cb", "orient": "vertical", "clip": true},
                      "encoding": {"x": {"field": "lam", "type": "quantitative"}, "y": {"field": "top", "type": "quantitative"}, "y2": {"field": "bot"}}
                    },
                    {
                      "data": {"name": "coolLines"},
                      "mark": {"type": "rule", "color": "#ffc0cb", "strokeWidth": 1.3},
                      "encoding": {"x": {"field": "lam", "type": "quantitative"}, "y": {"field": "lo", "type": "quantitative"}, "y2": {"field": "hi"}}
                    },
                    {
                      "data": {"name": "bands"},
                      "mark": {"type": "rule", "color": "#444444", "strokeWidth": 1.8},
                      "encoding": {"x": {"field": "lam0", "type": "quantitative"}, "x2": {"field": "lam1"}, "y": {"datum": 2.9, "type": "quantitative"}}
                    },
                    {
                      "data": {"name": "bands"},
                      "mark": {"type": "text", "fontSize": 20, "color": "#222222", "baseline": "middle", "align": "center"},
                      "encoding": {"x": {"field": "mid", "type": "quantitative"}, "y": {"datum": 2.835, "type": "quantitative"}, "text": {"field": "band"}}
                    },
                    {
                      "data": {"values": [{"lam0": 0.828, "lam1": 1.102, "lam": 1.128, "label": "SAND"}]},
                      "layer": [
                        {"mark": {"type": "rule", "color": "#000", "strokeWidth": 1.2}, "encoding": {"x": {"field": "lam0", "type": "quantitative"}, "x2": {"field": "lam1"}, "y": {"datum": 2.6, "type": "quantitative"}}},
                        {"mark": {"type": "text", "fontSize": 20, "color": "#111", "align": "left", "baseline": "middle"}, "encoding": {"x": {"field": "lam", "type": "quantitative"}, "y": {"datum": 2.6, "type": "quantitative"}, "text": {"field": "label"}}}
                      ]
                    },
                    {
                      "data": {"name": "boxRight"},
                      "mark": {"type": "line", "color": "#ff0000", "strokeWidth": 7.5, "strokeDash": [31, 25], "strokeCap": "butt", "strokeJoin": "miter", "clip": false},
                      "encoding": {"x": {"field": "lam", "type": "quantitative"}, "y": {"field": "v", "type": "quantitative"}, "order": {"field": "i", "type": "quantitative"}}
                    },
                    {
                      "data": {"values": [{"lam": 1.637, "v": 2.35, "label": "3000 K"}]},
                      "mark": {"type": "text", "fontSize": 26, "color": "#ffc0cb", "align": "center", "baseline": "middle"},
                      "encoding": {"x": {"field": "lam", "type": "quantitative"}, "y": {"field": "v", "type": "quantitative"}, "text": {"field": "label"}}
                    }
                  ]
                }
              ]
            }
          ]
        }
      ]
    }
  ]
}
